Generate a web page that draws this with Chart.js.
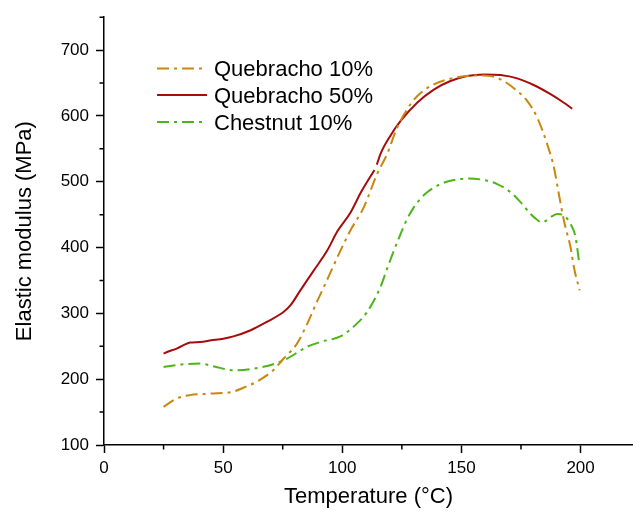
<!DOCTYPE html>
<html>
<head>
<meta charset="utf-8">
<script src="https://cdn.jsdelivr.net/npm/chart.js@4.4.1/dist/chart.umd.min.js"></script>
<style>
  html, body { margin: 0; padding: 0; background: #fff; }
  #wrap { width: 633px; height: 514px; position: relative; }
</style>
</head>
<body>
<div id="wrap"><canvas id="c"></canvas></div>
<script>
// ---- Data ----
const seriesNames = ['Quebracho 10%', 'Quebracho 50%', 'Chestnut 10%'];

const q10Temp = [25,30.5,36,44.5,54,58.5,64,71,75.3,81,85,89.3,93.5,99.2,103.4,109,114.6,118.8,123,127.2,131.4,138.4,145.4,152.4,159.4,166.4,173.4,177.6,181.8,186,188.8,190.9,193,195.8,197.2,199.6];
const q10Mod  = [158,170.7,175.8,178,180.8,187,196,213.6,231,254,282,317,350,395,426,461,511.6,542,582,610,630,648,656.6,660.6,661.6,655.6,638,623,597.5,557,522,481,441,400,370,335];

const q50Temp = [25,27,30.5,33,36.1,40.3,45,50.1,54.3,61.3,68.3,75.3,78.2,82.4,88,93.6,98,103.4,108,113.5,114,114.5,116,120.2,124.4,131.4,138.4,145.4,152.4,159.4,166.4,173.4,180.3,187.4,193,196.5];
const q50Mod  = [239,242,246.5,251,255.6,256.5,259,261.6,265,274,287,302,312,335,365,395,425,453,485,518,null,526,542,570,592,620,640,653,660.6,663,662,657,647,633,620,611];

const chTemp = [25,33.4,40.3,45.9,54.3,62.7,71.1,76.7,85.1,90.8,99.2,104.8,110.4,116,118.8,121.5,124.4,127,130,133,135.6,141.2,146.8,153.1,159.4,165,170.6,174.8,179,181.5,183.9,186,187.4,190.2,193,195.8,197.9,199.3];
const chMod  = [218.6,222.7,223.7,219.7,213.6,216,222.7,231,249,256.6,265,280,302,340,368,394,420,442,461,475,484,496.5,502.6,505,502.6,496.5,484,469,451,443,438,442,446,451,448.5,436,415.6,380];

const xMajorTicks = [0, 50, 100, 150, 200];
const xMinorTicks = [25, 75, 125, 175];
const yMajorTicks = [100, 200, 300, 400, 500, 600, 700];
const yMinorTicks = [150, 250, 350, 450, 550, 650, 750];

const colors = ['#C8870E', '#A50D0D', '#4DB51A'];
const FONT = '"Liberation Sans", Arial, sans-serif';

function pts(xs, ys) { return xs.map((x, i) => ({ x: x, y: ys[i] })); }

const minorTicksPlugin = {
  id: 'minorTicks',
  afterDraw(chart) {
    const ctx = chart.ctx;
    const xs = chart.scales.x, ys = chart.scales.y;
    ctx.save();
    ctx.strokeStyle = '#000';
    ctx.lineWidth = 1.5;
    ctx.beginPath();
    xMinorTicks.forEach(v => {
      const p = xs.getPixelForValue(v);
      ctx.moveTo(p, xs.top); ctx.lineTo(p, xs.top + 4.5);
    });
    yMinorTicks.forEach(v => {
      const p = ys.getPixelForValue(v);
      ctx.moveTo(ys.right, p); ctx.lineTo(ys.right - 4.5, p);
    });
    ctx.stroke();
    ctx.restore();
  }
};

const legendPlugin = {
  id: 'innerLegend',
  afterDatasetsDraw(chart) {
    const ctx = chart.ctx;
    const rowsY = [68.5, 95, 122];
    ctx.save();
    chart.data.datasets.forEach((ds, i) => {
      const y = rowsY[i];
      ctx.strokeStyle = ds.borderColor;
      ctx.lineWidth = ds.borderWidth;
      ctx.setLineDash(ds.borderDash || []);
      ctx.beginPath();
      ctx.moveTo(157, y); ctx.lineTo(207, y);
      ctx.stroke();
      ctx.setLineDash([]);
      ctx.fillStyle = '#000';
      ctx.font = '22px ' + FONT;
      ctx.textBaseline = 'middle';
      ctx.textAlign = 'left';
      ctx.fillText(ds.label, 214, y + 1.5);
    });
    ctx.restore();
  }
};

new Chart(document.getElementById('c'), {
  type: 'scatter',
  data: {
    datasets: [
      { label: seriesNames[0], data: pts(q10Temp, q10Mod), borderColor: colors[0], borderWidth: 2, borderDash: [12, 5, 3, 5] },
      { label: seriesNames[1], data: pts(q50Temp, q50Mod), borderColor: colors[1], borderWidth: 2 },
      { label: seriesNames[2], data: pts(chTemp, chMod), borderColor: colors[2], borderWidth: 2, borderDash: [12, 5, 3, 5] }
    ].map(d => Object.assign(d, { showLine: true, pointRadius: 0, fill: false, spanGaps: false, cubicInterpolationMode: 'monotone' }))
  },
  options: {
    responsive: true,
    maintainAspectRatio: false,
    animation: false,
    layout: { padding: { top: 17, right: 0, bottom: 0, left: 0 } },
    plugins: { legend: { display: false }, tooltip: { enabled: false } },
    scales: {
      x: {
        type: 'linear', min: 0, max: 222,
        afterBuildTicks: s => { s.ticks = xMajorTicks.map(v => ({ value: v })); },
        afterFit: s => { s.height = 69; },
        grid: { drawOnChartArea: false, drawTicks: true, tickLength: 8, tickColor: '#000', tickWidth: 1.5 },
        border: { display: true, color: '#000', width: 1.5 },
        ticks: { color: '#000', font: { family: FONT, size: 17 }, padding: 5, maxRotation: 0 },
        title: { display: true, text: 'Temperature (°C)', color: '#000', font: { family: FONT, size: 22 }, padding: { top: 0, bottom: 4 } }
      },
      y: {
        type: 'linear', min: 100, max: 750,
        afterBuildTicks: s => { s.ticks = yMajorTicks.map(v => ({ value: v })); },
        afterFit: s => { s.width = 104; },
        grid: { drawOnChartArea: false, drawTicks: true, tickLength: 8, tickColor: '#000', tickWidth: 1.5 },
        border: { display: true, color: '#000', width: 1.5 },
        ticks: { color: '#000', font: { family: FONT, size: 17 }, padding: 7 },
        title: { display: true, text: 'Elastic modulus (MPa)', color: '#000', font: { family: FONT, size: 22 }, padding: { top: 12, bottom: 0 } }
      }
    }
  },
  plugins: [minorTicksPlugin, legendPlugin]
});
</script>
</body>
</html>
